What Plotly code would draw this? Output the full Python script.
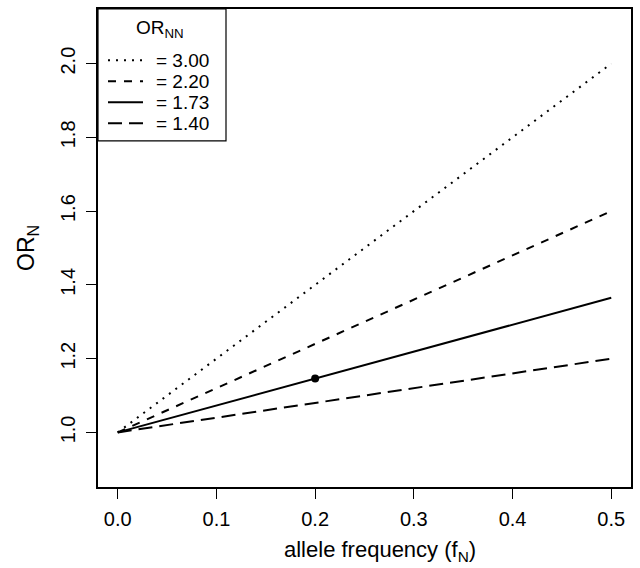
import plotly.graph_objects as go

# allele frequency endpoints of each line
freq = [0.0, 0.5]
# homozygote odds ratios (legend values)
or_nn_labels = ["= 3.00", "= 2.20", "= 1.73", "= 1.40"]
# per-allele odds ratio at each endpoint
or_n_values = [
    [1.0, 2.0],
    [1.0, 1.6],
    [1.0, 1.365],
    [1.0, 1.2],
]
dash_styles = ["2px,6px", "8px,8px", "solid", "14px,7px"]

# highlighted point
point_freq = [0.2]
point_or = [1.146]

x_ticks = [0.0, 0.1, 0.2, 0.3, 0.4, 0.5]
y_ticks = [1.0, 1.2, 1.4, 1.6, 1.8, 2.0]

FONT = "Liberation Sans, Arial, Helvetica, sans-serif"

# figure / plot-area geometry in pixels
W, H = 640, 568
M_L, M_R, M_T, M_B = 98, 9, 7, 81
PW, PH = W - M_L - M_R, H - M_T - M_B


def px_x(px):
    return (px - M_L) / PW


def px_y(py):
    return (H - M_B - py) / PH


fig = go.Figure()
for name, ys, dash in zip(or_nn_labels, or_n_values, dash_styles):
    fig.add_trace(go.Scatter(
        x=freq, y=ys, mode="lines", name=name, showlegend=False,
        line=dict(color="black", width=2, dash=dash),
    ))

fig.add_trace(go.Scatter(
    x=point_freq, y=point_or, mode="markers", showlegend=False,
    marker=dict(color="black", size=8),
))

axis_common = dict(
    showline=True, linecolor="black", linewidth=1.6, mirror=True,
    ticks="outside", ticklen=10, tickwidth=1.2, tickcolor="black",
    showgrid=False, zeroline=False, tickformat=".1f",
    tickfont=dict(family=FONT, size=20, color="black"),
)

fig.update_xaxes(range=[-0.02, 0.52], tickvals=x_ticks, ticklabelstandoff=3, **axis_common)
fig.update_yaxes(range=[0.852, 2.148], tickvals=y_ticks, tickangle=-90, ticklabelstandoff=3, **axis_common)

# legend box drawn in the top-left corner of the plot area
shapes = [dict(type="rect", xref="paper", yref="paper",
               x0=0, x1=px_x(226), y0=px_y(139.5), y1=1,
               line=dict(color="black", width=1.2), fillcolor="white", layer="above")]
annotations = [
    dict(text="OR<sub>NN</sub>", xref="paper", yref="paper",
         x=px_x(160), y=px_y(27), xanchor="center", yanchor="middle",
         showarrow=False, font=dict(family=FONT, size=19, color="black")),
]
row_y = [58.5, 79.6, 100.7, 121.8]
for name, dash, ry in zip(or_nn_labels, dash_styles, row_y):
    shapes.append(dict(type="line", xref="paper", yref="paper",
                       x0=px_x(108), x1=px_x(143), y0=px_y(ry), y1=px_y(ry),
                       line=dict(color="black", width=2, dash=dash), layer="above"))
    annotations.append(dict(text=name, xref="paper", yref="paper",
                            x=px_x(154), y=px_y(ry), xanchor="left", yanchor="middle",
                            showarrow=False, font=dict(family=FONT, size=19, color="black")))

annotations += [
    dict(text="allele frequency (f<sub>N</sub>)", xref="paper", yref="paper",
         x=px_x(380), y=0, xanchor="center", yanchor="middle", yshift=-64,
         showarrow=False, font=dict(family=FONT, size=22, color="black")),
    dict(text="OR<sub>N</sub>", xref="paper", yref="paper",
         x=0, y=0.5, xanchor="center", yanchor="middle", xshift=-71,
         textangle=-90, showarrow=False,
         font=dict(family=FONT, size=23, color="black")),
]

fig.update_layout(
    width=W, height=H,
    margin=dict(l=M_L, r=M_R, t=M_T, b=M_B),
    paper_bgcolor="white", plot_bgcolor="white",
    font=dict(family=FONT, color="black"),
    showlegend=False,
    shapes=shapes,
    annotations=annotations,
)

fig.write_html("out.html")
